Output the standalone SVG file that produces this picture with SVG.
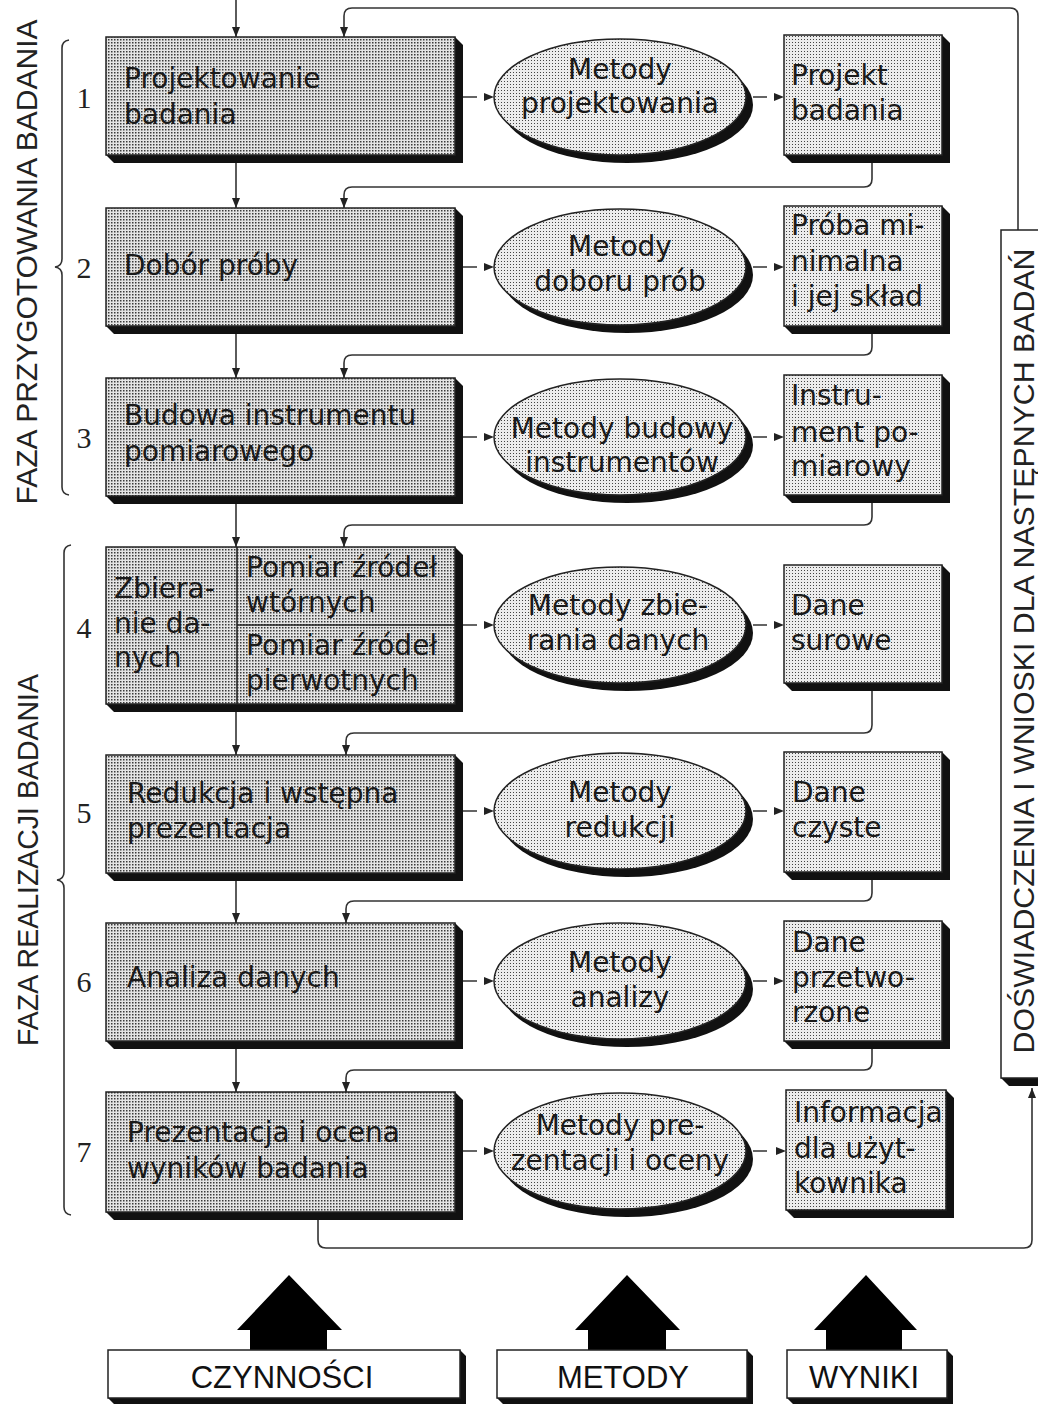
<svg xmlns="http://www.w3.org/2000/svg" xmlns:xlink="http://www.w3.org/1999/xlink" width="1038" height="1404" viewBox="0 0 1038 1404">
<defs>
<pattern id="pA" width="3" height="3" patternUnits="userSpaceOnUse"><rect width="3" height="3" fill="#e4e4e4"/><rect width="1.5" height="1.5" fill="#3a3a3a"/></pattern>
<pattern id="pB" width="3" height="3" patternUnits="userSpaceOnUse"><rect width="3" height="3" fill="#ececec"/><rect width="1" height="1" fill="#444"/></pattern>
<marker id="ar" viewBox="0 0 10 8" refX="10" refY="4" markerWidth="10" markerHeight="8" markerUnits="userSpaceOnUse" orient="auto"><path d="M0,0 L10,4 L0,8 z" fill="#222"/></marker>
<path id="ah" d="M-10,-4 L0,0 L-10,4 z" fill="#222"/>
</defs>
<style>
.act{fill:url(#pA);stroke:#222;stroke-width:1.5}
.lt{fill:url(#pB);stroke:#222;stroke-width:1.5}
.sh{fill:#111}
.ln{fill:none;stroke:#333;stroke-width:1.6}
.t{font-family:"DejaVu Sans",sans-serif;font-size:28px;fill:#1a1a1a}
.m{text-anchor:middle}
.n{font-family:"Liberation Serif",serif;font-size:30px;fill:#222;text-anchor:middle}
.v{font-family:"Liberation Sans",sans-serif;font-size:29px;fill:#222;text-anchor:middle}
.b{font-family:"Liberation Sans",sans-serif;font-size:31px;fill:#111;text-anchor:middle}
.wb{fill:#fff;stroke:#222;stroke-width:1.5}
</style>
<rect width="1038" height="1404" fill="#fff"/>

<!-- phase labels and brackets -->
<g id="phase1">
<path class="ln" d="M69,40 Q62,41 62,48 V259 Q62,266 55,267 Q62,268 62,275 V487 Q62,494 69,495"/>
<text class="v" transform="translate(37,262) rotate(-90)" textLength="485" lengthAdjust="spacingAndGlyphs">FAZA PRZYGOTOWANIA BADANIA</text>
</g>
<g id="phase2">
<path class="ln" d="M71,545 Q64,546 64,553 V872 Q64,879 57,880 Q64,881 64,888 V1207 Q64,1214 71,1215"/>
<text class="v" transform="translate(38,860) rotate(-90)" textLength="372" lengthAdjust="spacingAndGlyphs">FAZA REALIZACJI BADANIA</text>
</g>

<!-- numbers -->
<g id="numbers">
<text class="n" x="84" y="108">1</text>
<text class="n" x="84" y="278">2</text>
<text class="n" x="84" y="448">3</text>
<text class="n" x="84" y="638">4</text>
<text class="n" x="84" y="823">5</text>
<text class="n" x="84" y="992">6</text>
<text class="n" x="84" y="1162">7</text>
</g>

<!-- connectors -->
<g id="connectors">
<path class="ln" marker-end="url(#ar)" d="M236,0 V37"/>
<path class="ln" marker-end="url(#ar)" d="M236,163 V208"/>
<path class="ln" marker-end="url(#ar)" d="M236,334 V378"/>
<path class="ln" marker-end="url(#ar)" d="M236,504 V547"/>
<path class="ln" marker-end="url(#ar)" d="M236,712 V755"/>
<path class="ln" marker-end="url(#ar)" d="M236,881 V923"/>
<path class="ln" marker-end="url(#ar)" d="M236,1049 V1092"/>

<path class="ln" marker-end="url(#ar)" d="M1018,230 V16 Q1018,8 1010,8 H352 Q344,8 344,16 V37"/>
<path class="ln" marker-end="url(#ar)" d="M872,163 V179 Q872,187 864,187 H352 Q344,187 344,195 V208"/>
<path class="ln" marker-end="url(#ar)" d="M872,334 V347 Q872,355 864,355 H352 Q344,355 344,363 V378"/>
<path class="ln" marker-end="url(#ar)" d="M872,503 V517 Q872,525 864,525 H352 Q344,525 344,533 V547"/>
<path class="ln" marker-end="url(#ar)" d="M872,691 V725 Q872,733 864,733 H354 Q346,733 346,741 V755"/>
<path class="ln" marker-end="url(#ar)" d="M872,880 V893 Q872,901 864,901 H354 Q346,901 346,909 V923"/>
<path class="ln" marker-end="url(#ar)" d="M872,1049 V1062 Q872,1070 864,1070 H354 Q346,1070 346,1078 V1092"/>
<path class="ln" marker-end="url(#ar)" d="M318,1220 V1240 Q318,1248 326,1248 H1024 Q1032,1248 1032,1240 V1088"/>

<path class="ln" d="M463,97 H477 M753,97 H767"/>
<path class="ln" d="M463,267 H477 M753,267 H767"/>
<path class="ln" d="M463,437 H477 M753,437 H767"/>
<path class="ln" d="M463,625 H477 M753,625 H767"/>
<path class="ln" d="M463,811 H477 M753,811 H767"/>
<path class="ln" d="M463,981 H477 M753,981 H767"/>
<path class="ln" d="M463,1151 H477 M753,1151 H767"/>
<use href="#ah" x="494" y="97"/><use href="#ah" x="784" y="97"/>
<use href="#ah" x="494" y="267"/><use href="#ah" x="784" y="267"/>
<use href="#ah" x="494" y="437"/><use href="#ah" x="784" y="437"/>
<use href="#ah" x="494" y="625"/><use href="#ah" x="784" y="625"/>
<use href="#ah" x="494" y="811"/><use href="#ah" x="784" y="811"/>
<use href="#ah" x="494" y="981"/><use href="#ah" x="784" y="981"/>
<use href="#ah" x="494" y="1151"/><use href="#ah" x="786" y="1151"/>
</g>

<!-- activity boxes -->
<g id="act1">
<polygon class="sh" points="455,37 463,45 463,163 114,163 106,155 455,155"/>
<rect class="act" x="106" y="37" width="349" height="118"/>
<text class="t" x="124" y="88">Projektowanie</text>
<text class="t" x="124" y="124">badania</text>
</g>
<g id="act2">
<polygon class="sh" points="455,208 463,216 463,334 114,334 106,326 455,326"/>
<rect class="act" x="106" y="208" width="349" height="118"/>
<text class="t" x="124" y="275">Dobór próby</text>
</g>
<g id="act3">
<polygon class="sh" points="455,378 463,386 463,504 114,504 106,496 455,496"/>
<rect class="act" x="106" y="378" width="349" height="118"/>
<text class="t" x="124" y="425">Budowa instrumentu</text>
<text class="t" x="124" y="461">pomiarowego</text>
</g>
<g id="act4">
<polygon class="sh" points="455,547 463,555 463,712 114,712 106,704 455,704"/>
<rect class="act" x="106" y="547" width="349" height="157"/>
<path class="ln" d="M237,547 V704 M237,625 H455" style="stroke:#222"/>
<text class="t" x="114" y="598">Zbiera-</text>
<text class="t" x="114" y="633">nie da-</text>
<text class="t" x="114" y="667">nych</text>
<text class="t" x="246" y="577">Pomiar źródeł</text>
<text class="t" x="246" y="612">wtórnych</text>
<text class="t" x="246" y="655">Pomiar źródeł</text>
<text class="t" x="246" y="690">pierwotnych</text>
</g>
<g id="act5">
<polygon class="sh" points="455,755 463,763 463,881 114,881 106,873 455,873"/>
<rect class="act" x="106" y="755" width="349" height="118"/>
<text class="t" x="127" y="803">Redukcja i wstępna</text>
<text class="t" x="127" y="838">prezentacja</text>
</g>
<g id="act6">
<polygon class="sh" points="455,923 463,931 463,1049 114,1049 106,1041 455,1041"/>
<rect class="act" x="106" y="923" width="349" height="118"/>
<text class="t" x="127" y="987">Analiza danych</text>
</g>
<g id="act7">
<polygon class="sh" points="455,1092 463,1100 463,1220 114,1220 106,1212 455,1212"/>
<rect class="act" x="106" y="1092" width="349" height="120"/>
<text class="t" x="127" y="1142">Prezentacja i ocena</text>
<text class="t" x="127" y="1178">wyników badania</text>
</g>

<!-- method ellipses -->
<g id="met1">
<ellipse class="sh" cx="627" cy="105" rx="126" ry="58"/>
<ellipse class="lt" cx="620" cy="97" rx="126" ry="58"/>
<text class="t m" x="620" y="79">Metody</text>
<text class="t m" x="620" y="113">projektowania</text>
</g>
<g id="met2">
<ellipse class="sh" cx="627" cy="275" rx="126" ry="58"/>
<ellipse class="lt" cx="620" cy="267" rx="126" ry="58"/>
<text class="t m" x="620" y="256">Metody</text>
<text class="t m" x="620" y="291">doboru prób</text>
</g>
<g id="met3">
<ellipse class="sh" cx="627" cy="445" rx="126" ry="58"/>
<ellipse class="lt" cx="620" cy="437" rx="126" ry="58"/>
<text class="t m" x="622" y="438">Metody budowy</text>
<text class="t m" x="622" y="472">instrumentów</text>
</g>
<g id="met4">
<ellipse class="sh" cx="627" cy="633" rx="126" ry="58"/>
<ellipse class="lt" cx="620" cy="625" rx="126" ry="58"/>
<text class="t m" x="618" y="615">Metody zbie-</text>
<text class="t m" x="618" y="650">rania danych</text>
</g>
<g id="met5">
<ellipse class="sh" cx="627" cy="819" rx="126" ry="58"/>
<ellipse class="lt" cx="620" cy="811" rx="126" ry="58"/>
<text class="t m" x="620" y="802">Metody</text>
<text class="t m" x="620" y="837">redukcji</text>
</g>
<g id="met6">
<ellipse class="sh" cx="627" cy="989" rx="126" ry="58"/>
<ellipse class="lt" cx="620" cy="981" rx="126" ry="58"/>
<text class="t m" x="620" y="972">Metody</text>
<text class="t m" x="620" y="1007">analizy</text>
</g>
<g id="met7">
<ellipse class="sh" cx="627" cy="1159" rx="126" ry="58"/>
<ellipse class="lt" cx="620" cy="1151" rx="126" ry="58"/>
<text class="t m" x="620" y="1135">Metody pre-</text>
<text class="t m" x="620" y="1170">zentacji i oceny</text>
</g>

<!-- result boxes -->
<g id="res1">
<polygon class="sh" points="942,35 950,43 950,163 792,163 784,155 942,155"/>
<rect class="lt" x="784" y="35" width="158" height="120"/>
<text class="t" x="791" y="85">Projekt</text>
<text class="t" x="791" y="120">badania</text>
</g>
<g id="res2">
<polygon class="sh" points="942,206 950,214 950,334 792,334 784,326 942,326"/>
<rect class="lt" x="784" y="206" width="158" height="120"/>
<text class="t" x="791" y="235">Próba mi-</text>
<text class="t" x="791" y="271">nimalna</text>
<text class="t" x="791" y="306">i jej skład</text>
</g>
<g id="res3">
<polygon class="sh" points="942,375 950,383 950,503 792,503 784,495 942,495"/>
<rect class="lt" x="784" y="375" width="158" height="120"/>
<text class="t" x="791" y="405">Instru-</text>
<text class="t" x="791" y="442">ment po-</text>
<text class="t" x="791" y="476">miarowy</text>
</g>
<g id="res4">
<polygon class="sh" points="942,565 950,573 950,691 792,691 784,683 942,683"/>
<rect class="lt" x="784" y="565" width="158" height="118"/>
<text class="t" x="791" y="615">Dane</text>
<text class="t" x="791" y="650">surowe</text>
</g>
<g id="res5">
<polygon class="sh" points="942,752 950,760 950,880 792,880 784,872 942,872"/>
<rect class="lt" x="784" y="752" width="158" height="120"/>
<text class="t" x="792" y="802">Dane</text>
<text class="t" x="792" y="837">czyste</text>
</g>
<g id="res6">
<polygon class="sh" points="942,921 950,929 950,1049 792,1049 784,1041 942,1041"/>
<rect class="lt" x="784" y="921" width="158" height="120"/>
<text class="t" x="792" y="952">Dane</text>
<text class="t" x="792" y="987">przetwo-</text>
<text class="t" x="792" y="1022">rzone</text>
</g>
<g id="res7">
<polygon class="sh" points="946,1090 954,1098 954,1218 794,1218 786,1210 946,1210"/>
<rect class="lt" x="786" y="1090" width="160" height="120"/>
<text class="t" x="794" y="1122">Informacja</text>
<text class="t" x="794" y="1158">dla użyt-</text>
<text class="t" x="794" y="1193">kownika</text>
</g>

<!-- feedback box -->
<g id="feedback">
<polygon class="sh" points="1001,1078 1009,1086 1040,1086 1040,1078"/>
<rect class="wb" x="1001" y="230" width="45" height="848"/>
<text class="v" transform="translate(1034,651) rotate(-90)" textLength="805" lengthAdjust="spacingAndGlyphs">DOŚWIADCZENIA I WNIOSKI DLA NASTĘPNYCH  BADAŃ</text>
</g>

<!-- legend -->
<g id="leg1">
<polygon fill="#000" points="289,1275 342,1330 327,1330 327,1350 250,1350 250,1330 237,1330"/>
<polygon class="sh" points="460,1350 466,1356 466,1404 114,1404 108,1398 460,1398"/>
<rect class="wb" x="108" y="1350" width="352" height="48"/>
<text class="b" x="282" y="1388">CZYNNOŚCI</text>
</g>
<g id="leg2">
<polygon fill="#000" points="627,1275 680,1330 666,1330 666,1350 588,1350 588,1330 575,1330"/>
<polygon class="sh" points="747,1350 753,1356 753,1404 503,1404 497,1398 747,1398"/>
<rect class="wb" x="497" y="1350" width="250" height="48"/>
<text class="b" x="623" y="1388">METODY</text>
</g>
<g id="leg3">
<polygon fill="#000" points="866,1275 917,1330 902,1330 902,1350 826,1350 826,1330 814,1330"/>
<polygon class="sh" points="947,1350 953,1356 953,1404 793,1404 787,1398 947,1398"/>
<rect class="wb" x="787" y="1350" width="160" height="48"/>
<text class="b" x="864" y="1388">WYNIKI</text>
</g>
</svg>
